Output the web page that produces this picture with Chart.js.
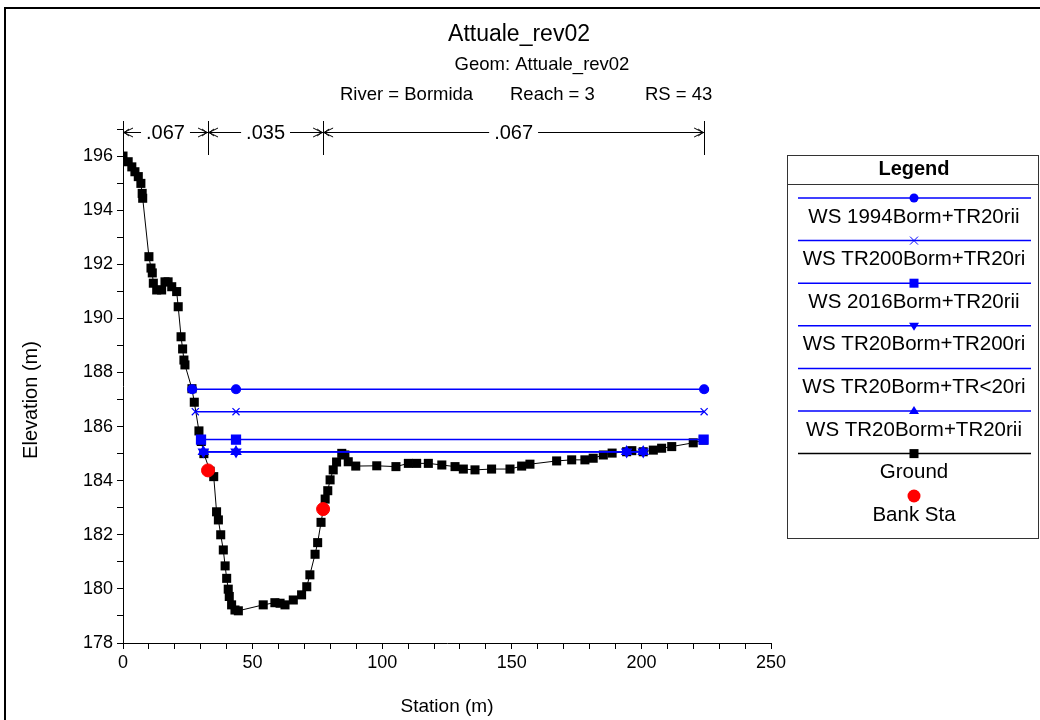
<!DOCTYPE html>
<html>
<head>
<meta charset="utf-8">
<script src="https://cdn.jsdelivr.net/npm/chart.js@4/dist/chart.umd.min.js"></script>
<style>
  html, body { margin: 0; padding: 0; background: #fff; }
  #wrap { width: 1040px; height: 720px; position: relative; }
</style>
</head>
<body>
<div id="wrap"><canvas id="xsChart" width="1040" height="720"></canvas></div>
<script>
// ground profile (station m, elevation m)
const groundSta = [0, 2.0, 3.4, 4.6, 5.9, 6.9, 7.4, 7.6, 10.0, 10.8, 11.3, 11.7, 13.0, 14.9, 16.2, 17.4, 18.8, 20.7, 21.3, 22.4,
  23.0, 23.5, 23.9, 26.6, 27.5, 29.3, 30.2, 31.2, 33.6, 35.0, 36.1, 36.8, 37.7, 38.7, 39.4, 40.0, 40.6, 41.0, 41.9, 43.2, 44.5,
  54.1, 58.6, 60.6, 62.5, 65.7, 68.9, 70.9, 72.1, 74.1, 75.1, 76.4, 78.0, 79.0, 79.9, 81.1, 82.4, 84.4, 85.6, 86.9, 89.8,
  97.9, 105.3, 110.1, 113.3, 117.8, 123.0, 128.1, 131.3, 135.8, 142.2, 149.3, 153.8, 157.0, 167.3, 173.1, 178.2, 181.4,
  185.3, 188.7, 194.3, 196.3, 200.7, 204.6, 207.8, 211.7, 220.0, 223.9];
const groundElev = [196.0, 195.79, 195.6, 195.42, 195.24, 194.99, 194.62, 194.44, 192.28, 191.86, 191.68, 191.3, 191.05, 191.05, 191.35, 191.35, 191.17, 190.99, 190.43, 189.32,
  188.87, 188.46, 188.28, 187.4, 186.9, 185.84, 185.45, 185.0, 184.35, 184.15, 182.85, 182.55, 182.0, 181.44, 180.85, 180.39, 179.99, 179.72, 179.41, 179.22, 179.19,
  179.41, 179.49, 179.47, 179.41, 179.59, 179.78, 180.08, 180.52, 181.28, 181.71, 182.46, 183.32, 183.63, 184.03, 184.4, 184.69, 185.01, 184.95, 184.7, 184.54,
  184.55, 184.52, 184.64, 184.64, 184.64, 184.58, 184.52, 184.43, 184.4, 184.43, 184.43, 184.54, 184.61, 184.73, 184.77, 184.77, 184.83,
  184.95, 185.02, 185.07, 185.11, 185.07, 185.13, 185.2, 185.26, 185.4, 185.5];

// bank stations
const bankSta = [32.8, 77.2];
const bankElev = [184.38, 182.95];

// water surfaces
const ws1994Sta = [26.7, 43.6, 224.2];
const ws1994Elev = [187.38, 187.38, 187.38];
const wsTr200Sta = [27.9, 43.6, 224.2];
const wsTr200Elev = [186.55, 186.55, 186.55];
const ws2016Sta = [30.1, 43.6, 224.0];
const ws2016Elev = [185.52, 185.52, 185.52];
const wsTr20Sta = [31.0, 43.6, 194.3, 200.7];
const wsTr20Elev = [185.07, 185.07, 185.07, 185.07];

// manning n values and their station breaks
const nBreaks = [0, 32.8, 77.2, 224.2];
const nValues = ['.067', '.035', '.067'];

const xTicksMax = 250;
const yMin = 178, yMax = 197;

const FONT = '"Liberation Sans", Arial, sans-serif';
const BLUE = '#0000ff';

function pts(xs, ys) {
    return xs.map((x, i) => ({ x: x, y: ys[i] }));
}

const legendRows = [
    { label: 'WS 1994Borm+TR20rii', color: BLUE, marker: 'circle' },
    { label: 'WS TR200Borm+TR20ri', color: BLUE, marker: 'cross' },
    { label: 'WS 2016Borm+TR20rii', color: BLUE, marker: 'square' },
    { label: 'WS TR20Borm+TR200ri', color: BLUE, marker: 'down' },
    { label: 'WS TR20Borm+TR<20ri', color: BLUE, marker: 'none' },
    { label: 'WS TR20Borm+TR20rii', color: BLUE, marker: 'up' },
    { label: 'Ground', color: '#000', marker: 'square' }
];

function marker(ctx, type, x, y, color) {
    ctx.save();
    ctx.fillStyle = color;
    ctx.strokeStyle = color;
    ctx.lineWidth = 1;
    ctx.beginPath();
    if (type === 'circle') {
        ctx.arc(x, y, 4.5, 0, Math.PI * 2);
        ctx.fill();
    } else if (type === 'square') {
        ctx.fillRect(x - 4.5, y - 4.5, 9, 9);
    } else if (type === 'cross') {
        ctx.moveTo(x - 4, y - 4); ctx.lineTo(x + 4, y + 4);
        ctx.moveTo(x + 4, y - 4); ctx.lineTo(x - 4, y + 4);
        ctx.stroke();
    } else if (type === 'down') {
        ctx.moveTo(x - 5, y - 3); ctx.lineTo(x + 5, y - 3); ctx.lineTo(x, y + 5);
        ctx.closePath(); ctx.fill();
    } else if (type === 'up') {
        ctx.moveTo(x - 5, y + 3); ctx.lineTo(x + 5, y + 3); ctx.lineTo(x, y - 5);
        ctx.closePath(); ctx.fill();
    } else if (type === 'bank') {
        ctx.arc(x, y, 6.5, 0, Math.PI * 2);
        ctx.fill();
    }
    ctx.restore();
}

const decorPlugin = {
    id: 'decor',
    afterDraw(chart) {
        const ctx = chart.ctx;
        const xs = chart.scales.x;
        const area = chart.chartArea;
        ctx.save();

        // outer frame
        ctx.strokeStyle = '#000';
        ctx.lineWidth = 2;
        ctx.strokeRect(5, 8, 1040, 720);

        // titles
        ctx.fillStyle = '#000';
        ctx.textBaseline = 'middle';
        ctx.textAlign = 'center';
        ctx.font = '23px ' + FONT;
        ctx.fillText('Attuale_rev02', 519, 35);
        ctx.font = '18.5px ' + FONT;
        ctx.fillText('Geom: Attuale_rev02', 542, 65);
        ctx.textAlign = 'left';
        ctx.fillText('River = Bormida', 340, 95);
        ctx.fillText('Reach = 3', 510, 95);
        ctx.fillText('RS = 43', 645, 95);

        // axis titles
        ctx.textAlign = 'center';
        ctx.font = '19px ' + FONT;
        ctx.fillText('Station (m)', (area.left + area.right) / 2, 707);
        ctx.save();
        ctx.font = '20px ' + FONT;
        ctx.translate(31, 400);
        ctx.rotate(-Math.PI / 2);
        ctx.fillText('Elevation (m)', 0, 0);
        ctx.restore();

        // manning n annotation
        const ay = 132;
        ctx.strokeStyle = '#000';
        ctx.lineWidth = 1;
        ctx.font = '20px ' + FONT;
        nBreaks.forEach(s => {
            const px = Math.round(xs.getPixelForValue(s)) + 0.5;
            ctx.beginPath();
            ctx.moveTo(px, 121);
            ctx.lineTo(px, 155);
            ctx.stroke();
        });
        nValues.forEach((n, i) => {
            const x1 = xs.getPixelForValue(nBreaks[i]);
            const x2 = xs.getPixelForValue(nBreaks[i + 1]);
            const mid = (x1 + x2) / 2;
            const half = ctx.measureText(n).width / 2 + 5;
            ctx.beginPath();
            ctx.moveTo(x1, ay + 0.5); ctx.lineTo(mid - half, ay + 0.5);
            ctx.moveTo(mid + half, ay + 0.5); ctx.lineTo(x2, ay + 0.5);
            // double chevron arrow heads
            ctx.moveTo(x1 + 10, ay - 4); ctx.lineTo(x1 + 1, ay + 0.5); ctx.lineTo(x1 + 10, ay + 5);
            ctx.moveTo(x1 + 6, ay - 3); ctx.lineTo(x1 + 1, ay + 0.5); ctx.lineTo(x1 + 6, ay + 4);
            ctx.moveTo(x2 - 10, ay - 4); ctx.lineTo(x2 - 1, ay + 0.5); ctx.lineTo(x2 - 10, ay + 5);
            ctx.moveTo(x2 - 6, ay - 3); ctx.lineTo(x2 - 1, ay + 0.5); ctx.lineTo(x2 - 6, ay + 4);
            ctx.stroke();
            ctx.fillText(n, mid, ay + 1);
        });

        // legend box
        const bx = 787, by = 155, bw = 251, bh = 383;
        ctx.strokeStyle = '#333';
        ctx.lineWidth = 1;
        ctx.strokeRect(bx + 0.5, by + 0.5, bw, bh);
        ctx.beginPath();
        ctx.moveTo(bx, 184.5); ctx.lineTo(bx + bw, 184.5);
        ctx.stroke();
        ctx.font = 'bold 20px ' + FONT;
        ctx.fillText('Legend', 914, 169);
        ctx.font = '20.5px ' + FONT;
        const cx = 914;
        legendRows.forEach((r, i) => {
            const ly = 198 + i * 42.6;
            ctx.strokeStyle = r.color;
            ctx.lineWidth = 1.5;
            ctx.beginPath();
            ctx.moveTo(798, ly); ctx.lineTo(1031, ly);
            ctx.stroke();
            marker(ctx, r.marker, cx, ly, r.color);
            ctx.fillStyle = '#000';
            ctx.fillText(r.label, cx, ly + 19);
        });
        marker(ctx, 'bank', cx, 496, '#ff0000');
        ctx.fillStyle = '#000';
        ctx.fillText('Bank Sta', cx, 515);
        ctx.restore();
    }
};

function wsSet(label, xs, ys, style, rot, radius) {
    return {
        label: label,
        data: pts(xs, ys),
        showLine: true,
        borderColor: BLUE,
        backgroundColor: BLUE,
        borderWidth: 1.5,
        pointStyle: style,
        rotation: rot,
        pointRadius: radius,
        pointBorderWidth: 1.2
    };
}

const ctx = document.getElementById('xsChart').getContext('2d');
new Chart(ctx, {
    type: 'scatter',
    data: {
        datasets: [
            {
                label: 'Bank Sta',
                data: pts(bankSta, bankElev),
                backgroundColor: '#ff0000',
                borderColor: '#ff0000',
                pointStyle: 'circle',
                pointRadius: 6.5,
                showLine: false
            },
            wsSet('WS 1994Borm+TR20rii', ws1994Sta, ws1994Elev, 'circle', 0, 4.5),
            wsSet('WS TR200Borm+TR20ri', wsTr200Sta, wsTr200Elev, 'crossRot', 0, 5),
            wsSet('WS 2016Borm+TR20rii', ws2016Sta, ws2016Elev, 'rect', 0, 6.4),
            wsSet('WS TR20Borm+TR200ri', wsTr20Sta, wsTr20Elev, 'triangle', 180, 5.5),
            wsSet('WS TR20Borm+TR<20ri', wsTr20Sta, wsTr20Elev, 'circle', 0, 0),
            wsSet('WS TR20Borm+TR20rii', wsTr20Sta, wsTr20Elev, 'triangle', 0, 5.5),
            {
                label: 'Ground',
                data: pts(groundSta, groundElev),
                showLine: true,
                borderColor: '#000',
                backgroundColor: '#000',
                borderWidth: 1,
                pointStyle: 'rect',
                pointRadius: 6.4,
                pointBorderWidth: 0
            }
        ]
    },
    options: {
        responsive: false,
        animation: false,
        layout: { padding: { top: 129, right: 269, left: 0, bottom: 0 } },
        plugins: {
            legend: { display: false },
            tooltip: { enabled: false }
        },
        scales: {
            x: {
                type: 'linear',
                min: 0,
                max: xTicksMax,
                afterFit: s => { s.height = 77; },
                border: { display: true, color: '#000', width: 1 },
                grid: { display: true, drawOnChartArea: false, drawTicks: true, tickLength: 6, color: '#000' },
                ticks: {
                    stepSize: 10,
                    autoSkip: false,
                    maxRotation: 0,
                    padding: 3,
                    color: '#000',
                    font: { family: FONT, size: 18 },
                    callback: v => (v % 50 === 0 ? v : '')
                }
            },
            y: {
                type: 'linear',
                min: yMin,
                max: yMax,
                afterFit: s => { s.width = 123; },
                border: { display: true, color: '#000', width: 1 },
                grid: { display: true, drawOnChartArea: false, drawTicks: true, tickLength: 6, color: '#000' },
                ticks: {
                    stepSize: 1,
                    autoSkip: false,
                    padding: 4,
                    color: '#000',
                    font: { family: FONT, size: 18 },
                    callback: v => (v % 2 === 0 ? v : '')
                }
            }
        }
    },
    plugins: [decorPlugin]
});
</script>
</body>
</html>
